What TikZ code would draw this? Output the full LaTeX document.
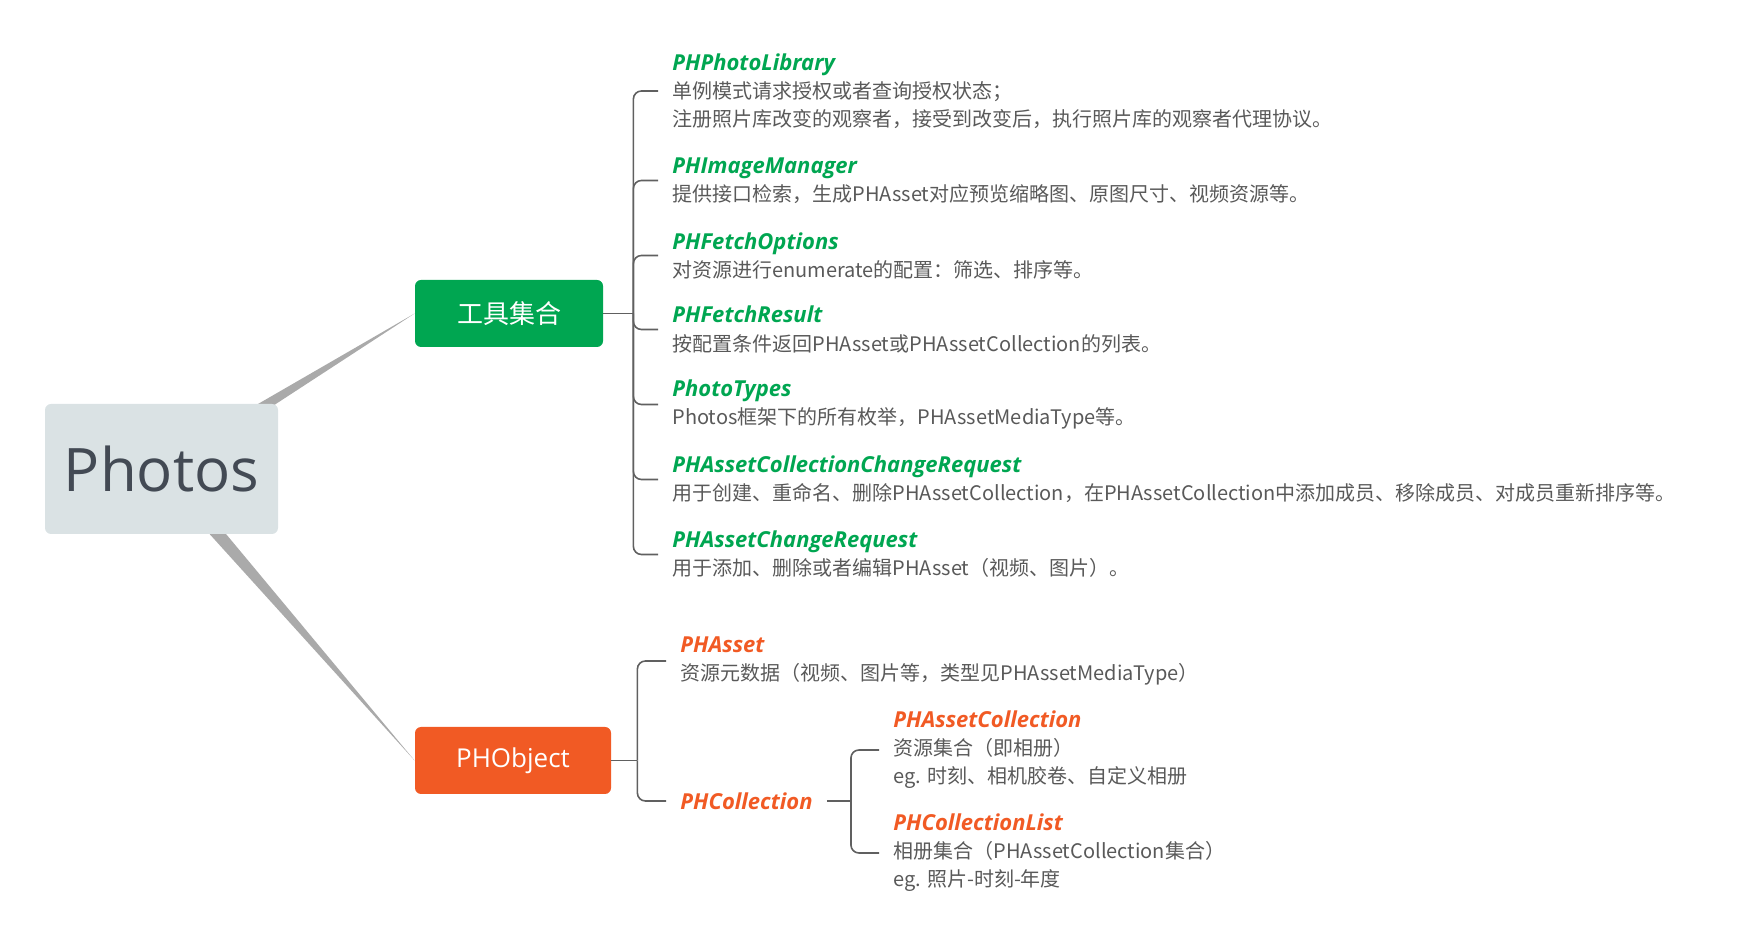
\documentclass[tikz,border=0pt]{standalone}
\usepackage{fontspec}
\setmainfont{Noto Sans CJK SC}
\newfontfamily\headfont{Open Sans}
\usetikzlibrary{positioning, calc, backgrounds}
\definecolor{photogray}{RGB}{218,226,228}
\definecolor{photoink}{RGB}{67,74,84}
\definecolor{toolgreen}{RGB}{0,166,81}
\definecolor{objorange}{RGB}{241,90,36}
\definecolor{descgray}{RGB}{89,89,89}
\definecolor{forkgray}{RGB}{96,96,96}
\definecolor{stemgray}{RGB}{170,170,170}

\newcommand{\gtitle}[1]{{\headfont\fontsize{11pt}{14pt}\selectfont\bfseries\itshape\color{toolgreen}#1}}
\newcommand{\otitle}[1]{{\headfont\fontsize{11pt}{14pt}\selectfont\bfseries\itshape\color{objorange}#1}}

\begin{document}
\begin{tikzpicture}[
        x=0.5pt, y=-0.5pt,
        rootbox/.style={rectangle, fill=photogray, rounded corners=3pt, minimum width=116.5pt, minimum height=65pt, text=photoink, font=\headfont\fontsize{30pt}{36pt}\selectfont},
        catbox/.style={rectangle, rounded corners=3pt, minimum height=33.5pt, text=white, font=\fontsize{13pt}{16pt}\selectfont},
        leaf/.style={anchor=west, align=left, inner xsep=7pt, inner ysep=0pt, text=descgray, font=\fontsize{10pt}{14pt}\selectfont},
        fork/.style={draw=forkgray, line width=0.8pt, rounded corners=4pt},
        stem/.style={fill=stemgray}
    ]
        \useasboundingbox (0,0) rectangle (1757,945);

        \node[rootbox] (photos) at (161.5,469) {Photos};
        \node[catbox, fill=toolgreen, minimum width=94pt] (tools) at (509,313.5) {工具集合};
        \node[catbox, fill=objorange, minimum width=98pt, font=\headfont\fontsize{13pt}{16pt}\selectfont] (phobject) at (513,760.5) {PHObject};

        % 工具集合
        \node[leaf] (library) at (658,91) {\gtitle{PHPhotoLibrary}\\单例模式请求授权或者查询授权状态；\\注册照片库改变的观察者，接受到改变后，执行照片库的观察者代理协议。};
        \node[leaf] (imagemgr) at (658,180.5) {\gtitle{PHImageManager}\\提供接口检索，生成PHAsset对应预览缩略图、原图尺寸、视频资源等。};
        \node[leaf] (fetchopt) at (658,255.5) {\gtitle{PHFetchOptions}\\对资源进行enumerate的配置：筛选、排序等。};
        \node[leaf] (fetchres) at (658,329.5) {\gtitle{PHFetchResult}\\按配置条件返回PHAsset或PHAssetCollection的列表。};
        \node[leaf] (phototypes) at (658,404.5) {\gtitle{PhotoTypes}\\Photos框架下的所有枚举，PHAssetMediaType等。};
        \node[leaf] (collreq) at (658,479.5) {\gtitle{PHAssetCollectionChangeRequest}\\用于创建、重命名、删除PHAssetCollection，在PHAssetCollection中添加成员、移除成员、对成员重新排序等。};
        \node[leaf] (assetreq) at (658,554.5) {\gtitle{PHAssetChangeRequest}\\用于添加、删除或者编辑PHAsset（视频、图片）。};

        % PHObject
        \node[leaf] (asset) at (666,661) {\otitle{PHAsset}\\资源元数据（视频、图片等，类型见PHAssetMediaType）};
        \node[leaf] (collection) at (666,801) {\otitle{PHCollection}};
        \node[leaf] (assetcoll) at (879,750) {\otitle{PHAssetCollection}\\资源集合（即相册）\\eg. 时刻、相机胶卷、自定义相册};
        \node[leaf] (colllist) at (879,853) {\otitle{PHCollectionList}\\相册集合（PHAssetCollection集合）\\eg. 照片-时刻-年度};

        \begin{scope}[on background layer]
            \fill[stem] ($(photos.center)!4pt!90:(tools.west)$) -- (tools.west) -- ($(photos.center)!4pt!-90:(tools.west)$) -- cycle;
            \fill[stem] ($(photos.center)!4pt!90:(phobject.west)$) -- (phobject.west) -- ($(photos.center)!4pt!-90:(phobject.west)$) -- cycle;
        \end{scope}

        \coordinate[right=15pt of tools.east] (toolfork);
        \draw[fork] (tools.east) -- (toolfork);
        \foreach \n in {library, imagemgr, fetchopt, fetchres, phototypes, collreq, assetreq}
            \draw[fork] (toolfork) |- (\n.west);

        \coordinate[right=13pt of phobject.east] (objfork);
        \draw[fork] (phobject.east) -- (objfork);
        \foreach \n in {asset, collection}
            \draw[fork] (objfork) |- (\n.west);

        \coordinate[right=12pt of collection.east] (collfork);
        \draw[fork] (collection.east) -- (collfork);
        \foreach \n in {assetcoll, colllist}
            \draw[fork] (collfork) |- (\n.west);
    \end{tikzpicture}
\end{document}
